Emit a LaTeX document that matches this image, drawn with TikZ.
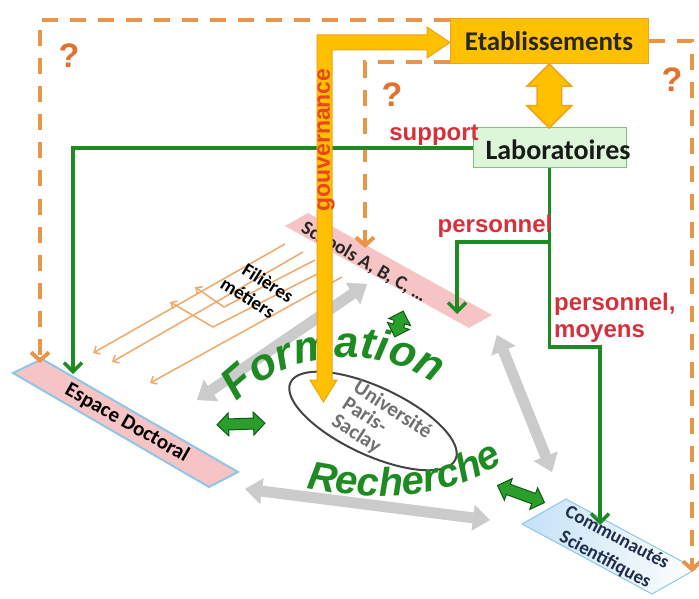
\documentclass[tikz,border=0pt]{standalone}
\usepackage{fontspec}
\setmainfont{Liberation Sans}
\newfontfamily\calib{Carlito}
\usetikzlibrary{arrows.meta,shapes.arrows,shapes.geometric,decorations.text,calc}
\definecolor{dashorange}{HTML}{E8954A}
\definecolor{qorange}{HTML}{E4702E}
\definecolor{fgreen}{HTML}{1E8B22}
\definecolor{bgreen}{HTML}{2A9E2A}
\definecolor{dgreen}{HTML}{0E5A12}
\definecolor{gold}{HTML}{FFC000}
\definecolor{goldline}{HTML}{EFA21A}
\definecolor{govred}{HTML}{E8461E}
\definecolor{labred}{HTML}{D6303A}
\definecolor{labofill}{HTML}{DDF6DA}
\definecolor{laboline}{HTML}{7CC47C}
\definecolor{pinkfill}{HTML}{F6C4C4}
\definecolor{stripblue}{HTML}{8FC6E8}
\definecolor{commblue}{HTML}{C4E1F6}
\definecolor{navy}{HTML}{1F2D4A}
\definecolor{ellgray}{HTML}{444444}
\definecolor{unigray}{HTML}{707070}
\definecolor{filor}{HTML}{F0A868}
\definecolor{grayarrow}{HTML}{CBCBCB}
\newcommand\formfont{\fontsize{44}{44}\selectfont\bfseries\itshape\color{fgreen}}
\newcommand\rechfont{\fontsize{40}{40}\selectfont\bfseries\itshape\color{fgreen}}
\begin{document}
\begin{tikzpicture}[x=1pt,y=-1pt,
  dashor/.style={draw=dashorange, line width=4pt, dash pattern=on 16pt off 12pt, -{Straight Barb[length=8pt,width=18pt]}},
  grnline/.style={draw=fgreen, line width=3.5pt, -{Straight Barb[length=9pt,width=18pt]}},
  grayarr/.style={draw=grayarrow, line width=11pt, {Triangle[length=17pt,width=26pt,line width=0.5pt]}-{Triangle[length=17pt,width=26pt,line width=0.5pt]}},
  filline/.style={draw=filor, line width=1.5pt},
  filarr/.style={filline, -{Straight Barb[length=5pt,width=9pt]}},
  gdbl/.style={double arrow, draw=dgreen, fill=bgreen, line width=1pt, inner xsep=0pt, inner ysep=5pt, double arrow head extend=6pt},
  qmark/.style={text=qorange, font=\bfseries\fontsize{34}{34}\selectfont},
  redlab/.style={text=labred, font=\bfseries\fontsize{24}{27}\selectfont},
  striptext/.style={font=\calib\bfseries\fontsize{#1}{#1}\selectfont, inner sep=0pt},
]
\useasboundingbox (0,0) rectangle (699,599);

% gray double arrows (behind)
\coordinate (ga1) at (197,400); \coordinate (ga2) at (367,284);
\coordinate (gb1) at (497,335); \coordinate (gb2) at (552,472);
\coordinate (gc1) at (245,489); \coordinate (gc2) at (490,520);
\draw[grayarr] (ga1) -- (ga2);
\draw[grayarr] (gb1) -- (gb2);
\draw[grayarr] (gc1) -- (gc2);

% Filieres metiers lines
\draw[filarr] (285,244) -- (93,353);
\draw[filarr] (303,252) -- (112,362);
\draw[filarr] (315,260) -- (224,307) -- (195,287);
\draw[filarr] (329,268) -- (213,327) -- (170,302);
\draw[filarr] (342,277) -- (150,383);
\node[striptext=19, rotate=-32] (fil1) at (268,283) {Filières};
\node[striptext=19, rotate=-32] (fil2) at (248,298) {métiers};

% strips
\filldraw[fill=pinkfill, draw=stripblue, line width=2pt] (13,373) -- (42,359) -- (238,472) -- (209,487) -- cycle;
\node[striptext=21, rotate=-29.5] (esp) at (127,423) {Espace Doctoral};
\fill[pinkfill] (285,226) -- (308,213) -- (492,315) -- (469,328) -- cycle;
\node[striptext=19.5, rotate=-30, text=black!85] (sch) at (364,262) {Schools A, B, C, …};
\shadedraw[left color=commblue, right color=white, draw=stripblue, line width=1pt] (522,524) -- (566,499) -- (696,569) -- (652,594) -- cycle;
\node[striptext=19, rotate=-28, align=center, text=navy, font=\calib\bfseries\fontsize{19}{25}\selectfont] (comm) at (611,549) {Communautés\\Scientifiques};

% ellipse
\node[draw=ellgray, line width=2pt, ellipse, minimum width=182pt, minimum height=68pt, rotate=-25] (univ) at (373,421) {};
\node[rotate=-33, anchor=north west, align=left, text=unigray, inner sep=0pt, font=\calib\bfseries\fontsize{21}{20}\selectfont] (univtxt) at (360,378) {Université\\Paris-\\Saclay};

% Formation / Recherche
\path[decorate, decoration={text along path, text={|\formfont|Formation}, text align=center}]
  (228,414) .. controls (262,362) and (365,328) .. (447,392);
\path[decorate, decoration={text along path, text={|\rechfont|Recherche}, text align=center}]
  (290,484) .. controls (360,502) and (455,505) .. (517,452);

% green double arrows
\node[gdbl, minimum height=27pt, rotate=72] (gdtop) at (399,324) {};
\node[gdbl, minimum height=48pt, rotate=2] (gdleft) at (241,424) {};
\node[gdbl, minimum height=50pt, rotate=-20] (gdright) at (521,494) {};

% boxes
\node[draw=goldline, fill=gold, line width=1pt, minimum width=198pt, minimum height=45pt, inner sep=0pt,
      font=\calib\bfseries\fontsize{27}{30}\selectfont, text=black!85] (etab) at (549,41.5) {Etablissements};
\node[draw=laboline, fill=labofill, line width=1pt, minimum width=153pt, minimum height=40pt, inner sep=0pt] (labo) at (549.5,148) {};

% dashed orange connectors
\coordinate (dq1) at (40,363);
\coordinate (dq2) at (365,248);
\coordinate (dq3) at (692,572);
\draw[dashor] ([yshift=-1.5pt]etab.north west) -| (dq1);
\draw[dashor] ([yshift=2pt]etab.south west) -| (dq2);
\draw[dashor] (etab.east) -| (dq3);

% green connectors
\coordinate (gd1) at (73,374);
\coordinate (gk) at (549.5,347);
\coordinate (gd2) at (600,525);
\coordinate (gbr) at (549.5,242);
\coordinate (gd3) at (457,314);
\draw[grnline] (labo.west) -| (gd1);
\draw[grnline] (labo.south) -- (gk) -| (gd2);
\draw[grnline] (gbr) -| (gd3);

\node[font=\calib\bfseries\fontsize{28}{30}\selectfont, text=black!90, inner sep=0pt] (labotxt) at (558,150) {Laboratoires};

% gold double arrow between Etablissements and Laboratoires
\node[double arrow, draw=goldline, fill=gold, line width=1.5pt, inner xsep=0pt, inner ysep=11.5pt, minimum height=64pt,
      double arrow head extend=10pt, rotate=90] (estlab) at ($(etab.south)!0.5!(labo.north)$) {};

% gouvernance arrow
\filldraw[fill=gold, draw=goldline, line width=1pt, line join=miter]
  (323.5,402) -- (337,380) -- (332,380) -- (332,50) -- (427,50) -- (427,58) -- (450,42.5)
  -- (427,27) -- (427,35) -- (317,35) -- (317,380) -- (310,380) -- cycle;
\node[rotate=90, text=govred, inner sep=0pt, font=\bfseries\fontsize{23}{23}\selectfont] (gouv) at (326,140) {gouvernance};

% labels
\node[qmark] (q1) at (69,56) {?};
\node[qmark] (q2) at (392,95) {?};
\node[qmark] (q3) at (672,80) {?};
\node[redlab, inner sep=0pt] (sup) at (434,135) {support};
\node[redlab, inner sep=0pt] (pers) at (495,226) {personnel};
\node[redlab, inner sep=0pt, anchor=west, align=left] (persmoy) at (554,318) {personnel,\\moyens};
\end{tikzpicture}
\end{document}
